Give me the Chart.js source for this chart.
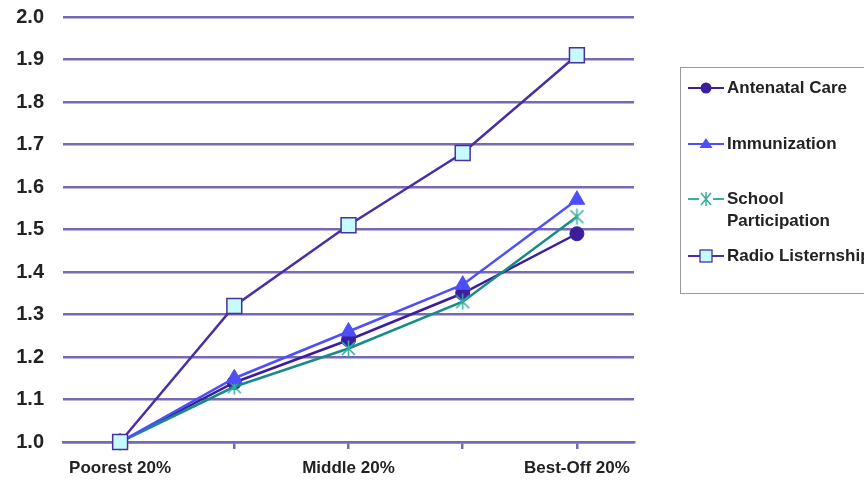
<!DOCTYPE html>
<html>
<head>
<meta charset="utf-8">
<script src="https://cdn.jsdelivr.net/npm/chart.js@4"></script>
<style>
  html, body { margin: 0; padding: 0; background: #fff; }
  #wrap { position: relative; width: 864px; height: 480px; overflow: hidden; }
  #chart { position: absolute; left: 0; top: 0; }
  #legend {
    position: absolute; left: 680px; top: 67px; width: 240px; height: 227px;
    border: 1.5px solid #9a9a9a; box-sizing: border-box;
    font-family: "Liberation Sans", Arial, sans-serif; font-weight: bold;
    font-size: 17px; color: #222;
  }
  .item { position: absolute; left: 5px; display: flex; align-items: flex-start; white-space: nowrap; }
  .item svg { flex: none; margin-right: 1px; }
  .item span { line-height: 22px; }
</style>
</head>
<body>
<div id="wrap">
  <canvas id="chart" width="864" height="480"></canvas>
  <div id="legend"></div>
</div>
<script>
// Quintile categories (only every other one carries a label)
const categories = ['Poorest 20%', '', 'Middle 20%', '', 'Best-Off 20%'];
const yTicks = [1.0, 1.1, 1.2, 1.3, 1.4, 1.5, 1.6, 1.7, 1.8, 1.9, 2.0];

// Ratio relative to the poorest quintile
const antenatalCare = [1.00, 1.14, 1.24, 1.35, 1.49];
const immunization = [1.00, 1.15, 1.26, 1.37, 1.57];
const schoolParticipation = [1.00, 1.13, 1.22, 1.33, 1.53];
const radioListenership = [1.00, 1.32, 1.51, 1.68, 1.91];

const seriesNames = ['Antenatal Care', 'Immunization', 'School\nParticipation', 'Radio Listernship'];

const COL_ANT = '#3b1e9c';
const COL_IMM = '#4f4ffa';
const COL_SCH = '#178c84';
const COL_SCH_MK = '#3aae9f';
const COL_RAD = '#4a2ea3';
const COL_RAD_FILL = '#c6fcff';
const GRID = '#7869b6';
const TEXT = '#222222';

// Asterisk marker (X with a vertical stroke)
function asteriskMarker(size, color) {
  const c = document.createElement('canvas');
  c.width = size; c.height = size;
  const g = c.getContext('2d');
  g.strokeStyle = color; g.lineWidth = 1.6;
  const m = 2, s = size - 2;
  g.beginPath();
  g.moveTo(m, m); g.lineTo(s, s);
  g.moveTo(s, m); g.lineTo(m, s);
  g.moveTo(size / 2, 0.5); g.lineTo(size / 2, size - 0.5);
  g.stroke();
  return c;
}
const starImg = asteriskMarker(17, COL_SCH_MK);

const ctx = document.getElementById('chart').getContext('2d');
new Chart(ctx, {
  type: 'line',
  data: {
    labels: categories,
    datasets: [
      {
        label: seriesNames[3], data: radioListenership, clip: false,
        borderColor: COL_RAD, borderWidth: 2.5,
        pointStyle: 'rect', pointRadius: 10.5, pointHoverRadius: 10.5,
        pointBackgroundColor: COL_RAD_FILL, pointBorderColor: COL_RAD, pointBorderWidth: 1.5
      },
      {
        label: seriesNames[1], data: immunization, clip: false,
        borderColor: COL_IMM, borderWidth: 2.5,
        pointStyle: 'triangle', pointRadius: 9, pointHoverRadius: 9,
        pointBackgroundColor: COL_IMM, pointBorderColor: COL_IMM, pointBorderWidth: 1
      },
      {
        label: seriesNames[2], data: schoolParticipation, clip: false,
        borderColor: COL_SCH, borderWidth: 2.5,
        pointStyle: starImg, pointRadius: 8, pointHoverRadius: 8
      },
      {
        label: seriesNames[0], data: antenatalCare, clip: false,
        borderColor: COL_ANT, borderWidth: 2.5,
        pointStyle: 'circle', pointRadius: 7, pointHoverRadius: 7,
        pointBackgroundColor: COL_ANT, pointBorderColor: COL_ANT, pointBorderWidth: 1
      }
    ]
  },
  options: {
    responsive: false,
    animation: false,
    layout: { padding: { top: 17, right: 230, left: 0, bottom: 0 } },
    plugins: { legend: { display: false }, tooltip: { enabled: false } },
    elements: { line: { tension: 0 } },
    scales: {
      x: {
        offset: true,
        grid: { display: true, drawOnChartArea: false, drawTicks: true, tickLength: 7, color: GRID, lineWidth: 2.5 },
        border: { display: true, color: GRID, width: 2.5 },
        ticks: {
          autoSkip: false, maxRotation: 0, padding: 9, color: TEXT,
          font: { family: '"Liberation Sans", Arial, sans-serif', weight: 'bold', size: 17 }
        },
        afterFit: (s) => { s.height = 38; s.paddingLeft = 0; s.paddingRight = 0; }
      },
      y: {
        min: 1, max: 2,
        afterBuildTicks: (s) => { s.ticks = yTicks.map(v => ({ value: v })); },
        grid: { color: GRID, lineWidth: 2.5, drawTicks: false },
        border: { display: false },
        ticks: {
          padding: 19, color: TEXT,
          font: { family: '"Liberation Sans", Arial, sans-serif', weight: 'bold', size: 20 },
          callback: (v) => Number(v).toFixed(1)
        },
        afterFit: (s) => { s.width = 63; s.paddingTop = 0; s.paddingBottom = 0; }
      }
    }
  }
});

// Legend entries, drawn as HTML with small SVG markers
const legendItems = [
  { name: seriesNames[0], top: 9, svg: `<line x1="2" y1="11" x2="38" y2="11" stroke="${COL_ANT}" stroke-width="2"/><circle cx="20" cy="11" r="5.5" fill="${COL_ANT}"/>` },
  { name: seriesNames[1], top: 65, svg: `<line x1="2" y1="11" x2="38" y2="11" stroke="${COL_IMM}" stroke-width="2"/><polygon points="20,5 26.5,15 13.5,15" fill="${COL_IMM}"/>` },
  { name: seriesNames[2], top: 120, svg: `<line x1="2" y1="11" x2="13" y2="11" stroke="${COL_SCH_MK}" stroke-width="2"/><line x1="27" y1="11" x2="38" y2="11" stroke="${COL_SCH_MK}" stroke-width="2"/><path d="M15 5 L25 17 M25 5 L15 17 M20 4 L20 18" stroke="${COL_SCH_MK}" stroke-width="1.5"/>` },
  { name: seriesNames[3], top: 177, svg: `<line x1="2" y1="11" x2="38" y2="11" stroke="${COL_RAD}" stroke-width="2"/><rect x="14" y="5" width="12" height="12" fill="${COL_RAD_FILL}" stroke="${COL_RAD}" stroke-width="1.3"/>` }
];
const legend = document.getElementById('legend');
legendItems.forEach(it => {
  const d = document.createElement('div');
  d.className = 'item';
  d.style.top = it.top + 'px';
  d.innerHTML = `<svg width="40" height="22" viewBox="0 0 40 22">${it.svg}</svg><span>${it.name.replace('\n', '<br>')}</span>`;
  legend.appendChild(d);
});
</script>
</body>
</html>
